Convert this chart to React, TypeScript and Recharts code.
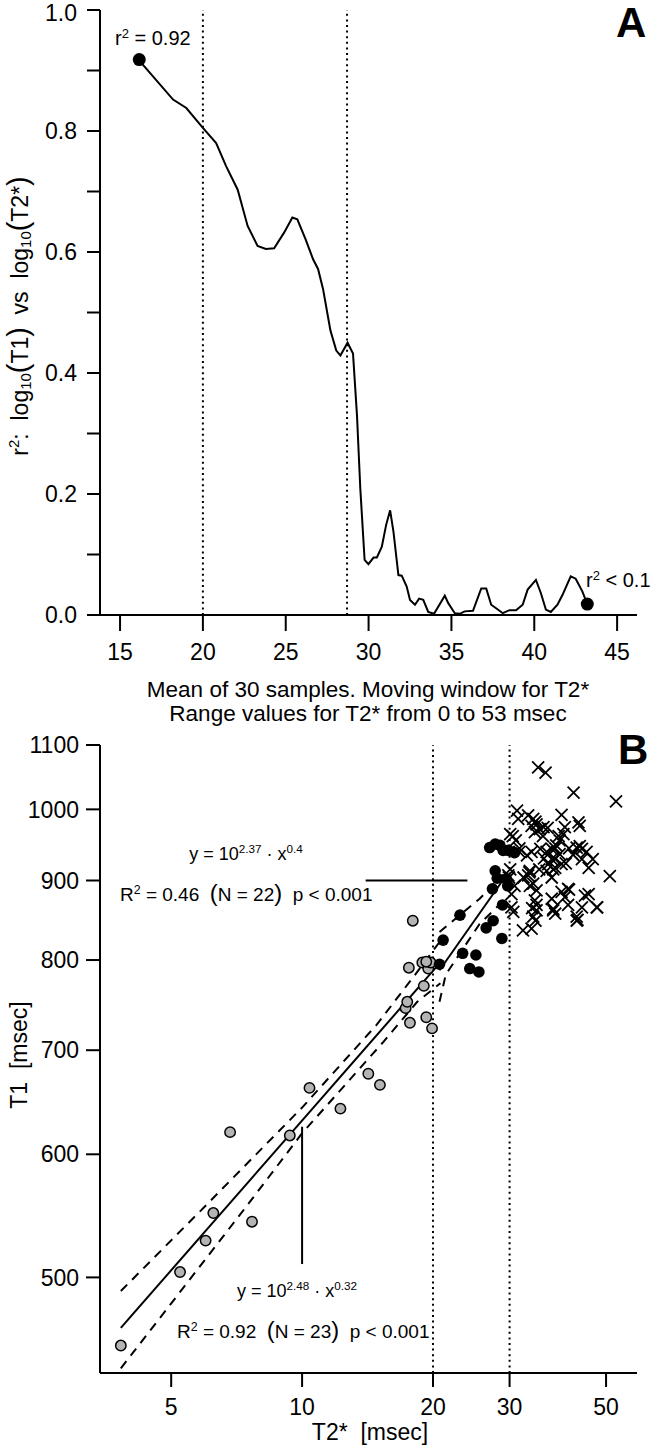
import React from "react";
import { ReferenceLine, Scatter, ScatterChart, XAxis, YAxis } from "recharts";

const FONT = '"Liberation Sans", Arial, Helvetica, sans-serif';

// ---- panel A: r² of log(T1) vs log(T2*) in a moving window ----
const windowMean = [
  16.16, 16.4, 18.2, 19.0, 20.0, 20.8, 21.4, 22.1, 22.7, 23.3, 23.8, 24.3, 24.9, 25.4, 25.7, 26.2,
  26.65, 26.95, 27.25, 27.7, 28.05, 28.3, 28.73, 29.06, 29.3, 29.5, 29.76, 29.99, 30.3, 30.5, 30.8,
  31.06, 31.3, 31.5, 31.8, 32.0, 32.3, 32.5, 32.8, 33.05, 33.3, 33.6, 33.95, 34.6, 34.8, 35.2, 35.5,
  35.8, 36.3, 36.8, 37.1, 37.4, 37.8, 38.1, 38.5, 38.9, 39.3, 39.6, 40.1, 40.4, 40.7, 41.0, 41.4,
  41.7, 42.2, 42.5, 42.9, 43.2,
];
const rSquared = [
  0.918, 0.909, 0.852, 0.838, 0.805, 0.78, 0.742, 0.703, 0.643, 0.61, 0.605, 0.606, 0.632, 0.657,
  0.654, 0.621, 0.588, 0.572, 0.539, 0.47, 0.437, 0.429, 0.45, 0.432, 0.33, 0.209, 0.091, 0.084,
  0.095, 0.095, 0.113, 0.149, 0.173, 0.138, 0.066, 0.065, 0.047, 0.025, 0.017, 0.027, 0.025, 0.005,
  0.002, 0.032, 0.02, 0.003, 0.002, 0.006, 0.007, 0.044, 0.044, 0.017, 0.009, 0.003, 0.008, 0.008,
  0.017, 0.042, 0.058, 0.036, 0.009, 0.005, 0.017, 0.033, 0.064, 0.06, 0.039, 0.018,
];
const endIdx = [0, windowMean.length - 1];
const xTicksA = [15, 20, 25, 28.7, 30, 35, 40, 45];
const yTicksA = [0, 0.1, 0.2, 0.3, 0.4, 0.5, 0.6, 0.7, 0.8, 0.9, 1.0];
const cutoffsA = [20, 28.7];

// ---- panel B: T1 vs T2* (log-log) ----
const grayT2 = [3.83, 5.24, 6.0, 6.25, 7.67, 6.83, 9.37, 10.4, 12.25, 14.2, 15.1, 17.3, 17.45, 17.7, 17.6, 19.05, 19.3, 19.9, 18.9, 19.5, 19.75, 17.97, 19.3];
const grayT1 = [452, 504, 528, 550, 543, 620, 617, 662, 642, 676, 665, 745, 752, 729, 791, 770, 735, 723, 797, 790, 797, 848, 798];

const blackT2 = [20.7, 21.1, 23.07, 23.4, 24.3, 25.1, 25.5, 26.5, 27.5, 28.8, 28.9, 27.4, 28.1, 29.7, 27.8, 27.0, 27.8, 28.5, 29.0, 29.8, 30.8, 29.5];
const blackT1 = [795, 824, 855, 808, 790, 806, 786, 839, 848, 826, 868, 889, 903, 893, 913, 945, 950, 948, 941, 941, 938, 902];

const crossT2 = [
  34.9, 36.3, 42.1, 52.7, 31.2, 31.4, 33.1, 34.0, 33.7, 34.6, 35.2, 35.9, 34.3, 39.5, 43.2, 43.5,
  40.2, 39.9, 30.1, 31.0, 39.1, 38.4, 37.5, 36.5, 35.3, 33.7, 32.9, 31.6, 42.8, 44.0, 45.1, 46.6,
  44.0, 39.1, 38.2, 36.8, 37.8, 39.5, 36.5, 33.4, 33.1, 30.1, 29.8, 37.5, 51.0, 34.0, 34.6, 40.9,
  44.7, 40.2, 30.3, 37.5, 34.3, 34.6, 44.0, 47.6, 37.8, 30.3, 40.9, 42.8, 34.0, 38.2, 30.6, 33.3,
  33.4, 34.6, 33.7, 32.2, 39.5, 37.8, 42.8, 37.5, 34.4, 41.1, 43.0, 45.6, 47.7, 34.4, 36.7, 35.8,
  38.9, 41.1, 38.2, 43.5, 30.5, 31.6, 32.3, 35.1, 38.2, 40.4, 45.6, 29.9, 30.8, 33.8, 36.0, 42.0,
];
const crossT1 = [
  1064, 1056, 1025, 1012, 998, 986, 991, 986, 976, 978, 971, 974, 967, 992, 981, 976,
  974, 964, 964, 955, 955, 948, 943, 939, 943, 939, 934, 939, 945, 943, 939, 929,
  929, 936, 929, 922, 915, 922, 913, 913, 907, 915, 907, 904, 906, 896, 887, 889,
  880, 878, 882, 876, 874, 868, 865, 865, 863, 865, 868, 853, 853, 857, 859, 911,
  893, 861, 838, 836, 885, 861, 848, 929, 848, 888, 849, 882, 865, 982, 973, 961,
  961, 944, 944, 947, 961, 944, 904, 915, 917, 923, 917, 904, 893, 864, 930, 935,
];

// regression lines and confidence bands
const grayFitT2 = [3.83, 20.7];
const grayFitT1 = [464, 796];
const grayUpperT2 = [3.83, 6.0, 10, 14.85, 18.2, 20.8];
const grayUpperT1 = [490, 556, 643, 727, 783, 823];
const grayLowerT2 = [3.83, 7.43, 10, 15.4, 18.4, 20.8];
const grayLowerT1 = [437, 555, 619, 709, 752, 773];

const blackFitT2 = [20.7, 29];
const blackFitT1 = [788, 901];
const blackUpperT2 = [20.7, 25.6, 29];
const blackUpperT1 = [834, 876, 908];
const blackLowerT2 = [20.7, 21.4, 25.6, 29];
const blackLowerT1 = [752, 783, 844, 873];

// leader lines to the equations
const leaderBlackT2 = [14, 24];
const leaderBlackT1 = [900, 900];
const leaderGrayT2 = [10, 10];
const leaderGrayT1 = [625, 510];

const xTicksB = [5, 10, 20, 30, 50];
const yTicksB = [500, 600, 700, 800, 900, 1000, 1100];
const cutoffsB = [20, 30];

const zip = (xs: number[], ys: number[]) => xs.map((x, i) => ({ x, y: ys[i] }));

const curveA = zip(windowMean, rSquared);
const endDotsA = endIdx.map((i) => ({ x: windowMean[i], y: rSquared[i] }));

const axisStroke = { stroke: "#000", strokeWidth: 2 };
const tickFont = { fill: "#000", fontSize: 23, fontFamily: FONT };

const Nothing = () => <g />;

const BigDot = (p: any) => <circle cx={p.cx} cy={p.cy} r={6.5} fill="#000" />;
const GrayDot = (p: any) => (
  <circle cx={p.cx} cy={p.cy} r={5.2} fill="#b4b4b4" stroke="#000" strokeWidth={1.5} />
);
const BlackDot = (p: any) => <circle cx={p.cx} cy={p.cy} r={5.8} fill="#000" />;
const Cross = (p: any) => {
  const s = 6;
  return (
    <path
      d={`M${p.cx - s},${p.cy - s}L${p.cx + s},${p.cy + s}M${p.cx + s},${p.cy - s}L${p.cx - s},${p.cy + s}`}
      stroke="#000"
      strokeWidth={1.8}
      fill="none"
    />
  );
};

const XTickA = (p: any) => {
  const v = p.payload.value;
  const shifted = v === 28.7;
  return (
    <text
      x={p.x}
      y={p.y}
      dy="0.71em"
      textAnchor={shifted ? "end" : "middle"}
      fill="#000"
      fontSize={23}
      fontFamily={FONT}
    >
      {v}
    </text>
  );
};

const abs = (style: React.CSSProperties): React.CSSProperties => ({
  position: "absolute",
  whiteSpace: "nowrap",
  fontFamily: FONT,
  color: "#000",
  lineHeight: 1,
  ...style,
});

const sup: React.CSSProperties = { fontSize: "0.65em", verticalAlign: "0.55em" };
const sub: React.CSSProperties = { fontSize: "0.65em", verticalAlign: "-0.25em" };
const paren: React.CSSProperties = { fontSize: "1.25em", fontWeight: 300 };

const dotted = { stroke: "#000", strokeWidth: 2, strokeDasharray: "2 3.6" };
const dashed = { stroke: "#000", strokeWidth: 2, strokeDasharray: "9 7" };
const solid = { stroke: "#000", strokeWidth: 2 };

export default function App() {
  return (
    <div
      style={{
        position: "absolute",
        left: 0,
        top: 0,
        width: 652,
        height: 1449,
        background: "#fff",
        overflow: "hidden",
      }}
    >
      {/* Panel A */}
      <div style={{ position: "absolute", left: 0, top: 0 }}>
        <ScatterChart width={652} height={700} margin={{ top: 10, right: 15, bottom: 0, left: 40 }}>
          <XAxis
            type="number"
            dataKey="x"
            domain={[13.79, 46.2]}
            ticks={xTicksA}
            allowDataOverflow
            height={85}
            tickSize={16}
            tickMargin={13}
            tick={<XTickA />}
            axisLine={axisStroke}
            tickLine={axisStroke}
          />
          <YAxis
            type="number"
            dataKey="y"
            domain={[0, 1]}
            ticks={yTicksA}
            width={60}
            tickSize={13}
            tickMargin={10}
            tick={tickFont}
            tickFormatter={(v: number) => (Math.round(v * 10) % 2 === 0 ? v.toFixed(1) : "")}
            axisLine={axisStroke}
            tickLine={axisStroke}
          />
          {cutoffsA.map((c) => (
            <ReferenceLine key={c} x={c} {...dotted} />
          ))}
          <Scatter data={curveA} line={solid} shape={<Nothing />} isAnimationActive={false} />
          <Scatter data={endDotsA} shape={<BigDot />} isAnimationActive={false} />
        </ScatterChart>
      </div>

      <div style={abs({ left: 616, top: 2, fontSize: 42, fontWeight: 700 })}>A</div>
      <div style={abs({ left: 115, top: 27, fontSize: 20 })}>
        r<span style={sup}>2</span> = 0.92
      </div>
      <div style={abs({ left: 586, top: 569, fontSize: 20 })}>
        r<span style={sup}>2</span> &lt; 0.1
      </div>
      <div
        style={abs({
          left: 19,
          top: 316,
          fontSize: 23,
          transform: "translate(-50%, -50%) rotate(-90deg)",
        })}
      >
        r<span style={sup}>2</span>:&nbsp; log<span style={sub}>10</span>
        <span style={paren}>(</span>T1<span style={paren}>)</span>&nbsp; vs&nbsp; log
        <span style={sub}>10</span>
        <span style={paren}>(</span>T2*<span style={paren}>)</span>
      </div>
      <div style={abs({ left: 368, top: 690, fontSize: 22.5, transform: "translate(-50%, -50%)" })}>
        Mean of 30 samples. Moving window for T2*
      </div>
      <div style={abs({ left: 368, top: 714, fontSize: 22.5, transform: "translate(-50%, -50%)" })}>
        Range values for T2* from 0 to 53 msec
      </div>

      {/* Panel B */}
      <div style={{ position: "absolute", left: 0, top: 720 }}>
        <ScatterChart width={652} height={729} margin={{ top: 25, right: 15, bottom: 0, left: 40 }}>
          <XAxis
            type="number"
            dataKey="x"
            scale="log"
            domain={[3.43, 58.9]}
            ticks={xTicksB}
            allowDataOverflow
            height={76}
            tickSize={14}
            tickMargin={12}
            tick={tickFont}
            axisLine={axisStroke}
            tickLine={axisStroke}
          />
          <YAxis
            type="number"
            dataKey="y"
            scale="log"
            domain={[434, 1100]}
            ticks={yTicksB}
            allowDataOverflow
            width={60}
            tickSize={14}
            tickMargin={7}
            tick={tickFont}
            axisLine={axisStroke}
            tickLine={axisStroke}
          />
          {cutoffsB.map((c) => (
            <ReferenceLine key={c} x={c} {...dotted} />
          ))}
          <Scatter data={zip(grayUpperT2, grayUpperT1)} line={dashed} shape={<Nothing />} isAnimationActive={false} />
          <Scatter data={zip(grayLowerT2, grayLowerT1)} line={dashed} shape={<Nothing />} isAnimationActive={false} />
          <Scatter data={zip(grayFitT2, grayFitT1)} line={solid} shape={<Nothing />} isAnimationActive={false} />
          <Scatter data={zip(blackUpperT2, blackUpperT1)} line={dashed} shape={<Nothing />} isAnimationActive={false} />
          <Scatter data={zip(blackLowerT2, blackLowerT1)} line={dashed} shape={<Nothing />} isAnimationActive={false} />
          <Scatter data={zip(blackFitT2, blackFitT1)} line={solid} shape={<Nothing />} isAnimationActive={false} />
          <Scatter data={zip(leaderBlackT2, leaderBlackT1)} line={solid} shape={<Nothing />} isAnimationActive={false} />
          <Scatter data={zip(leaderGrayT2, leaderGrayT1)} line={solid} shape={<Nothing />} isAnimationActive={false} />
          <Scatter data={zip(crossT2, crossT1)} shape={<Cross />} isAnimationActive={false} />
          <Scatter data={zip(grayT2, grayT1)} shape={<GrayDot />} isAnimationActive={false} />
          <Scatter data={zip(blackT2, blackT1)} shape={<BlackDot />} isAnimationActive={false} />
        </ScatterChart>
      </div>

      <div style={abs({ left: 618, top: 729, fontSize: 42, fontWeight: 700 })}>B</div>
      <div style={abs({ left: 246, top: 853, fontSize: 18, transform: "translate(-50%, -50%)" })}>
        y = 10<span style={sup}>2.37</span> · x<span style={sup}>0.4</span>
      </div>
      <div style={abs({ left: 120, top: 893, fontSize: 19, transform: "translateY(-50%)" })}>
        R<span style={sup}>2</span> = 0.46&nbsp; <span style={paren}>(</span>N = 22<span style={paren}>)</span>&nbsp; p &lt; 0.001
      </div>
      <div style={abs({ left: 237, top: 1290, fontSize: 18, transform: "translateY(-50%)" })}>
        y = 10<span style={sup}>2.48</span> · x<span style={sup}>0.32</span>
      </div>
      <div style={abs({ left: 177, top: 1330, fontSize: 19, transform: "translateY(-50%)" })}>
        R<span style={sup}>2</span> = 0.92&nbsp; <span style={paren}>(</span>N = 23<span style={paren}>)</span>&nbsp; p &lt; 0.001
      </div>
      <div
        style={abs({
          left: 19,
          top: 1055,
          fontSize: 23,
          transform: "translate(-50%, -50%) rotate(-90deg)",
        })}
      >
        T1&nbsp; [msec]
      </div>
      <div style={abs({ left: 370, top: 1432, fontSize: 23, transform: "translate(-50%, -50%)" })}>
        T2*&nbsp; [msec]
      </div>
    </div>
  );
}
